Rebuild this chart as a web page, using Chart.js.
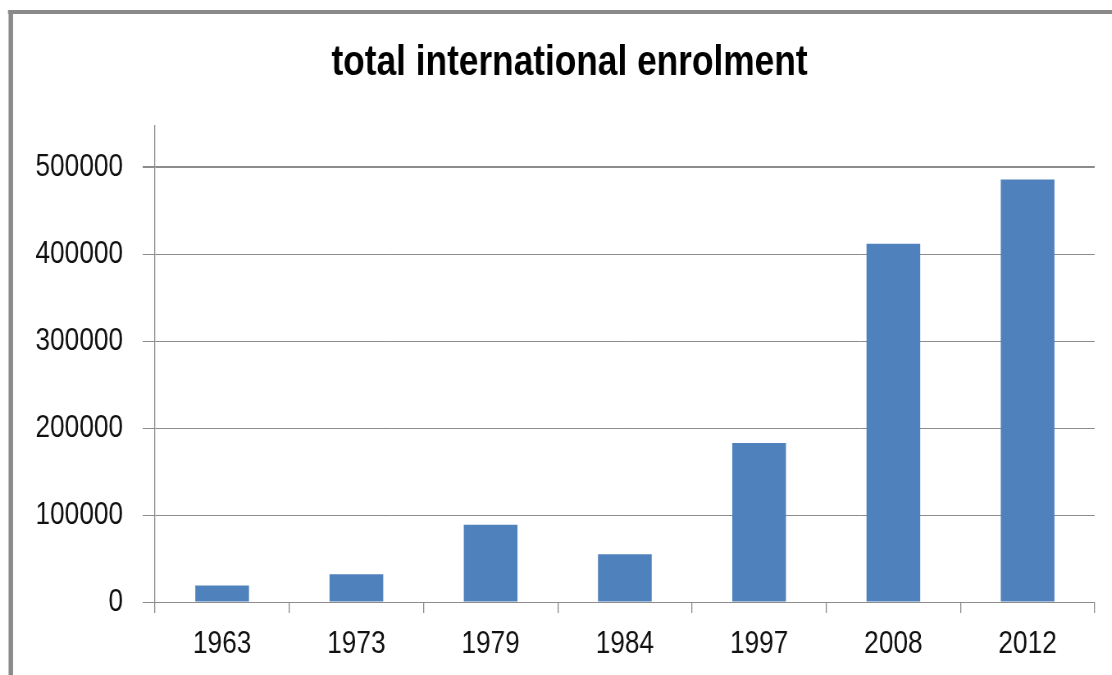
<!DOCTYPE html>
<html>
<head>
<meta charset="utf-8">
<script src="https://cdn.jsdelivr.net/npm/chart.js@4.4.1/dist/chart.umd.min.js"></script>
<style>
	html, body {
		margin: 0;
		padding: 0;
		background: #ffffff;
		overflow: hidden;
	}
	#box {
		position: relative;
		width: 1112px;
		height: 675px;
		overflow: hidden;
	}
	/* the source picture is a squeezed screenshot: draw wide, then squeeze */
	#chart {
		transform-origin: 0 0;
	}
</style>
</head>
<body>
<div id="box"><canvas id="chart"></canvas></div>
<script>
const years = ["1963", "1973", "1979", "1984", "1997", "2008", "2012"];
const enrolment = [19000, 32000, 89000, 55000, 183000, 412000, 486000];
const yTickValues = [0, 100000, 200000, 300000, 400000, 500000];
const titleText = "total international enrolment";

const squeeze = 0.82;
const pageWidth = 1112;
const pageHeight = 675;
const fontFamily = "'Liberation Sans', Arial, sans-serif";

// grey frame round the chart, only the left and top edges show
const framePlugin = {
	id: "frame",
	beforeDraw(chart) {
		const ctx = chart.ctx;
		ctx.save();
		ctx.fillStyle = "#ffffff";
		ctx.fillRect(0, 0, chart.width, chart.height);
		ctx.strokeStyle = "#8a8a8a";
		ctx.beginPath();
		ctx.lineWidth = 4.5 / squeeze;
		ctx.moveTo(10.8 / squeeze, chart.height + 10);
		ctx.lineTo(10.8 / squeeze, 12);
		ctx.stroke();
		ctx.beginPath();
		ctx.lineWidth = 4;
		ctx.moveTo(8 / squeeze, 12);
		ctx.lineTo(chart.width + 10, 12);
		ctx.stroke();
		ctx.restore();
	}
};

// the title sits a little right of the plot centre in the original
const titleShiftPlugin = {
	id: "titleShift",
	afterLayout(chart) {
		const title = chart.titleBlock;
		if (title) {
			title.left += 27;
			title.right += 27;
		}
	}
};

function drawChart() {
	const canvas = document.getElementById("chart");
	canvas.width = Math.round(pageWidth / squeeze);
	canvas.height = pageHeight;
	canvas.style.width = canvas.width + "px";
	canvas.style.height = pageHeight + "px";
	canvas.style.transform = `scaleX(${squeeze})`;
	const context = canvas.getContext("2d");
	const options = {
		type: "bar",
		data: {
			labels: years,
			datasets: [
				{
					label: "enrolment",
					data: enrolment,
					backgroundColor: "#4f81bd",
					borderWidth: 0,
					barPercentage: 0.4,
					categoryPercentage: 1
				}
			]
		},
		options: {
			responsive: false,
			devicePixelRatio: 1,
			animation: false,
			layout: {
				padding: { left: 0, right: 21, top: 0, bottom: 0 }
			},
			plugins: {
				legend: { display: false },
				tooltip: { enabled: false },
				title: {
					display: true,
					text: titleText,
					color: "#000000",
					font: { family: fontFamily, size: 43, weight: "bold" },
					padding: { top: 37, bottom: 37 }
				}
			},
			scales: {
				x: {
					offset: true,
					grid: {
						offset: true,
						drawOnChartArea: false,
						drawTicks: true,
						tickLength: 11,
						lineWidth: 1.3,
						color: "#8c8c8c"
					},
					border: { display: true, color: "#8c8c8c", width: 1 },
					ticks: {
						color: "#111111",
						font: { family: fontFamily, size: 32 },
						padding: 12,
						maxRotation: 0,
						autoSkip: false
					},
					afterFit: scale => { scale.height = 73; }
				},
				y: {
					min: 0,
					max: 548000,
					grid: {
						color: "#8c8c8c",
						lineWidth: c => (c.tick && c.tick.value === 500000 ? 2 : 1),
						drawTicks: true,
						tickLength: 15
					},
					border: { display: true, color: "#8c8c8c", width: 1.3 },
					ticks: {
						color: "#111111",
						font: { family: fontFamily, size: 32 },
						padding: 24,
						autoSkip: false,
						callback: value => String(value)
					},
					afterBuildTicks: scale => {
						scale.ticks = yTickValues.map(v => ({ value: v }));
					},
					afterFit: scale => { scale.width = 155 / squeeze; }
				}
			}
		},
		plugins: [framePlugin, titleShiftPlugin]
	};
	new Chart(context, options);
}

document.addEventListener("DOMContentLoaded", _ => drawChart());
</script>
</body>
</html>
